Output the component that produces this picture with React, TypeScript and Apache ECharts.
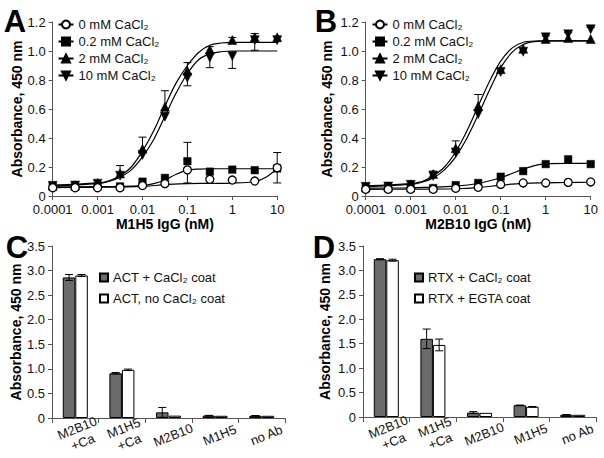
import React, { useEffect, useRef } from "react";
import * as echarts from "echarts";

// ---------- data ----------
const concX = [0.0001, 0.000316, 0.001, 0.00316, 0.01, 0.0316, 0.1, 0.316, 1, 3.16, 10];
const xTickLabels = ["0.0001", "0.001", "0.01", "0.1", "1", "10"];
const yTickLabelsAB = ["0", "0.2", "0.4", "0.6", "0.8", "1.0", "1.2"];
const yTickLabelsCD = ["0", "0.5", "1.0", "1.5", "2.0", "2.5", "3.0", "3.5"];
const seriesNames = ["0 mM CaCl₂", "0.2 mM CaCl₂", "2 mM CaCl₂", "10 mM CaCl₂"];

// Panel A (M1H5)
const a0 = [0.057, 0.057, 0.057, 0.057, 0.072, 0.085, 0.18, 0.115, 0.11, 0.103, 0.195];
const a0ErrLo = [0, 0, 0, 0, 0, 0, 0.09, 0, 0, 0, 0.105];
const a0ErrHi = [0, 0, 0, 0, 0, 0, 0, 0, 0, 0, 0.105];
const a02 = [0.064, 0.064, 0.066, 0.066, 0.099, 0.125, 0.24, 0.168, 0.182, 0.178, 0.19];
const a02ErrLo = [0, 0, 0, 0, 0, 0, 0, 0, 0, 0, 0];
const a02ErrHi = [0, 0, 0, 0, 0, 0, 0.13, 0, 0, 0, 0];
const a2 = [0.072, 0.075, 0.09, 0.156, 0.326, 0.616, 0.864, 1.01, 1.076, 1.095, 1.095];
const a2ErrLo = [0, 0, 0, 0, 0, 0, 0, 0, 0, 0, 0];
const a2ErrHi = [0, 0, 0, 0.054, 0.08, 0.11, 0.056, 0.02, 0.018, 0.025, 0];
const a10 = [0.07, 0.072, 0.085, 0.14, 0.283, 0.547, 0.816, 0.955, 0.965, 1.075, 1.075];
const a10ErrLo = [0, 0, 0, 0, 0, 0, 0.056, 0.07, 0.085, 0.07, 0];
const a10ErrHi = [0, 0, 0, 0, 0, 0, 0, 0, 0, 0, 0];

// Panel B (M2B10)
const b0 = [0.046, 0.046, 0.046, 0.046, 0.053, 0.06, 0.08, 0.09, 0.09, 0.094, 0.097];
const b0ErrLo = [0, 0, 0, 0, 0, 0, 0, 0, 0, 0, 0];
const b0ErrHi = [0, 0, 0, 0, 0, 0, 0, 0, 0, 0, 0];
const b02 = [0.053, 0.055, 0.055, 0.055, 0.075, 0.09, 0.133, 0.172, 0.22, 0.253, 0.22];
const b02ErrLo = [0, 0, 0, 0, 0, 0, 0, 0, 0, 0, 0];
const b02ErrHi = [0, 0, 0, 0, 0, 0, 0, 0, 0, 0, 0];
const b2 = [0.065, 0.067, 0.08, 0.152, 0.33, 0.62, 0.875, 1.015, 1.083, 1.09, 1.083];
const b2ErrLo = [0, 0, 0, 0, 0, 0, 0, 0, 0, 0, 0];
const b2ErrHi = [0, 0, 0, 0.02, 0.05, 0.08, 0, 0, 0, 0, 0];
const b10 = [0.063, 0.065, 0.077, 0.138, 0.3, 0.565, 0.855, 0.995, 1.094, 1.115, 1.15];
const b10ErrLo = [0, 0, 0, 0, 0, 0, 0, 0, 0, 0, 0];
const b10ErrHi = [0, 0, 0, 0, 0, 0, 0, 0, 0.01, 0.012, 0.012];

// fitted curves
const fitX = [0.0001, 0.001, 0.00178, 0.00316, 0.00562, 0.01, 0.0178, 0.0316, 0.0562, 0.1, 0.178, 0.316, 0.562, 1, 10];
const aFit2 = [0.075, 0.09, 0.105, 0.14, 0.2, 0.31, 0.45, 0.62, 0.78, 0.9, 0.99, 1.04, 1.055, 1.06, 1.06];
const aFit10 = [0.07, 0.085, 0.1, 0.13, 0.18, 0.27, 0.39, 0.55, 0.71, 0.845, 0.94, 0.98, 0.995, 1.0, 1.0];
const bFit2 = [0.07, 0.085, 0.1, 0.14, 0.2, 0.305, 0.45, 0.62, 0.79, 0.93, 1.02, 1.06, 1.068, 1.07, 1.07];
const bFit10 = [0.065, 0.08, 0.095, 0.125, 0.18, 0.27, 0.4, 0.56, 0.73, 0.885, 0.99, 1.045, 1.065, 1.07, 1.07];
const aFitX02 = [0.0001, 0.001, 0.01, 0.0178, 0.0316, 0.0562, 0.1, 0.178, 0.316, 1, 10];
const aFit02 = [0.063, 0.064, 0.072, 0.085, 0.11, 0.15, 0.178, 0.186, 0.188, 0.188, 0.188];
const aFitX0 = [0.0001, 0.001, 0.01, 0.0316, 0.1, 0.316, 1, 3.16, 5.62, 10];
const aFit0 = [0.058, 0.06, 0.066, 0.078, 0.086, 0.087, 0.089, 0.1, 0.13, 0.19];
const bFitX02 = [0.0001, 0.001, 0.01, 0.0316, 0.1, 0.178, 0.316, 0.562, 1, 3.16, 10];
const bFit02 = [0.055, 0.057, 0.068, 0.086, 0.126, 0.155, 0.185, 0.21, 0.222, 0.225, 0.225];
const bFitX0 = [0.0001, 0.001, 0.01, 0.0316, 0.1, 0.316, 1, 3.16, 10];
const bFit0 = [0.046, 0.047, 0.05, 0.058, 0.075, 0.087, 0.091, 0.093, 0.095];

// Panels C and D (bars)
const barCats = ["M2B10\n+Ca", "M1H5\n+Ca", "M2B10", "M1H5", "no Ab"];
const cNames = ["ACT + CaCl₂ coat", "ACT, no CaCl₂ coat"];
const cDark = [2.86, 0.91, 0.115, 0.048, 0.045];
const cDarkErr = [0.06, 0.015, 0.1, 0.006, 0.004];
const cWhite = [2.9, 0.98, 0.048, 0.045, 0.045];
const cWhiteErr = [0.02, 0.015, 0, 0, 0];
const dNames = ["RTX + CaCl₂ coat", "RTX + EGTA coat"];
const dDark = [3.23, 1.6, 0.09, 0.24, 0.045];
const dDarkErr = [0.01, 0.2, 0.02, 0.005, 0.005];
const dWhite = [3.21, 1.475, 0.085, 0.21, 0.045];
const dWhiteErr = [0.02, 0.12, 0, 0.005, 0];

// ---------- helpers ----------
const FONT = "Liberation Sans, Arial, sans-serif";
const CAP = 4;
const BAR_W = 12.5;

function pairs(xs: number[], ys: number[]) {
  return xs.map((x, i) => [x, ys[i]]);
}
function errData(xs: any[], v: number[], lo: number[], hi: number[]) {
  return v.map((y, i) => [xs[i], y, y - lo[i], y + hi[i]]);
}
function errRender(offset: number) {
  return (params: any, api: any) => {
    const x = api.value(0);
    const v = api.value(1);
    const lo = api.value(2);
    const hi = api.value(3);
    if (!(hi - lo > 1e-9)) return { type: "group", children: [] };
    const pV = api.coord([x, v]);
    const pLo = api.coord([x, lo]);
    const pHi = api.coord([x, hi]);
    const cx = pV[0] + offset;
    const st = { stroke: "#000", lineWidth: 1 };
    const ch: any[] = [
      { type: "line", shape: { x1: cx, y1: pLo[1], x2: cx, y2: pHi[1] }, style: st },
    ];
    if (hi > v + 1e-9)
      ch.push({ type: "line", shape: { x1: cx - CAP, y1: pHi[1], x2: cx + CAP, y2: pHi[1] }, style: st });
    if (lo < v - 1e-9)
      ch.push({ type: "line", shape: { x1: cx - CAP, y1: pLo[1], x2: cx + CAP, y2: pLo[1] }, style: st });
    return { type: "group", children: ch };
  };
}

const symbols = ["circle", "rect", "triangle", "triangle"];
const symbolRot = [0, 0, 0, 180];
const symbolSizes = [8, 7.5, 9, 9];
const fills = ["#fff", "#000", "#000", "#000"];

function logAxis(gridIndex: number, name: string) {
  return {
    type: "log",
    gridIndex,
    logBase: 10,
    min: 0.0001,
    max: 10,
    name,
    nameLocation: "middle",
    nameGap: 21,
    nameTextStyle: { fontWeight: "bold", fontSize: 14, color: "#000", fontFamily: FONT },
    axisLine: { show: true, lineStyle: { color: "#555", width: 1 } },
    axisTick: { show: true, length: 4, lineStyle: { color: "#555" } },
    minorTick: { show: false },
    splitLine: { show: false },
    axisLabel: {
      fontSize: 13,
      color: "#111",
      margin: 7,
      fontFamily: FONT,
      formatter: (v: number) => xTickLabels[Math.round(Math.log10(v)) + 4] ?? "",
    },
  };
}
function valAxis(gridIndex: number, max: number, interval: number, labels: string[], nameGap: number) {
  return {
    type: "value",
    gridIndex,
    min: 0,
    max,
    interval,
    name: "Absorbance, 450 nm",
    nameLocation: "middle",
    nameGap,
    nameTextStyle: { fontWeight: "bold", fontSize: 14, color: "#000", fontFamily: FONT },
    axisLine: { show: true, lineStyle: { color: "#555", width: 1 } },
    axisTick: { show: true, length: 4, lineStyle: { color: "#555" } },
    splitLine: { show: false },
    axisLabel: {
      fontSize: 13,
      color: "#111",
      margin: 7,
      fontFamily: FONT,
      formatter: (v: number) => labels[Math.round(v / interval)] ?? "",
    },
  };
}
function catAxis(gridIndex: number) {
  return {
    type: "category",
    gridIndex,
    data: barCats,
    axisLine: { show: true, lineStyle: { color: "#555", width: 1 } },
    axisTick: { show: true, length: 5, lineStyle: { color: "#555" } },
    splitLine: { show: false },
    axisLabel: {
      interval: 0,
      rotate: 22,
      align: "center",
      verticalAlign: "middle",
      margin: 19,
      fontSize: 13,
      lineHeight: 15,
      padding: [0, 0, 0, 10],
      color: "#111",
      fontFamily: FONT,
    },
  };
}

function curvePanel(
  gi: number,
  fits: number[][][],
  vals: number[][],
  errLo: number[][],
  errHi: number[][]
) {
  const out: any[] = [];
  for (let k = 0; k < 4; k++) {
    out.push({
      type: "line",
      name: seriesNames[k],
      xAxisIndex: gi,
      yAxisIndex: gi,
      data: fits[k],
      smooth: 0.35,
      showSymbol: false,
      symbol: symbols[k],
      symbolRotate: symbolRot[k],
      lineStyle: { color: "#000", width: 1.2 },
      itemStyle: { color: fills[k], borderColor: "#000", borderWidth: 1.2 },
      z: 2,
      silent: true,
    });
  }
  for (let k = 0; k < 4; k++) {
    out.push({
      type: "custom",
      name: seriesNames[k] + " error",
      xAxisIndex: gi,
      yAxisIndex: gi,
      data: errData(concX, vals[k], errLo[k], errHi[k]),
      encode: { x: 0, y: 1 },
      renderItem: errRender(0),
      z: 3,
      silent: true,
    });
  }
  const order = [3, 2, 1, 0];
  for (const k of order) {
    out.push({
      type: "scatter",
      name: seriesNames[k],
      xAxisIndex: gi,
      yAxisIndex: gi,
      data: pairs(concX, vals[k]),
      symbol: symbols[k],
      symbolRotate: symbolRot[k],
      symbolSize: symbolSizes[k],
      itemStyle: { color: fills[k], borderColor: "#000", borderWidth: k === 0 ? 1.3 : 0.5, opacity: 1 },
      z: 4,
      silent: true,
    });
  }
  return out;
}

function barPanel(gi: number, names: string[], dark: number[], darkErr: number[], white: number[], whiteErr: number[]) {
  const idx = barCats.map((_, i) => i);
  return [
    {
      type: "bar",
      name: names[0],
      xAxisIndex: gi,
      yAxisIndex: gi,
      data: dark,
      barWidth: BAR_W,
      barGap: "0%",
      itemStyle: { color: "#6b6b6b", borderColor: "#000", borderWidth: 1 },
      silent: true,
    },
    {
      type: "bar",
      name: names[1],
      xAxisIndex: gi,
      yAxisIndex: gi,
      data: white,
      barWidth: BAR_W,
      barGap: "0%",
      itemStyle: { color: "#fff", borderColor: "#000", borderWidth: 1 },
      silent: true,
    },
    {
      type: "custom",
      name: names[0] + " error",
      xAxisIndex: gi,
      yAxisIndex: gi,
      data: errData(idx, dark, darkErr, darkErr),
      encode: { x: 0, y: 1 },
      renderItem: errRender(-BAR_W / 2),
      z: 5,
      silent: true,
    },
    {
      type: "custom",
      name: names[1] + " error",
      xAxisIndex: gi,
      yAxisIndex: gi,
      data: errData(idx, white, whiteErr, whiteErr),
      encode: { x: 0, y: 1 },
      renderItem: errRender(BAR_W / 2),
      z: 5,
      silent: true,
    },
  ];
}

function curveLegend(left: number) {
  return {
    data: seriesNames,
    orient: "vertical",
    left,
    top: 18,
    padding: 0,
    itemWidth: 15,
    itemHeight: 10,
    itemGap: 4,
    selectedMode: false,
    textStyle: { fontSize: 13, color: "#111", fontFamily: FONT },
  };
}
function barLegend(names: string[], left: number) {
  return {
    data: names,
    orient: "vertical",
    left,
    top: 271,
    padding: 0,
    icon: "rect",
    itemWidth: 8,
    itemHeight: 8,
    itemGap: 8,
    selectedMode: false,
    textStyle: { fontSize: 13, color: "#111", fontFamily: FONT },
  };
}

function letter(text: string, x: number, y: number) {
  return {
    type: "text",
    x,
    y,
    style: {
      text,
      fontSize: 31,
      fontWeight: "bold",
      fontFamily: FONT,
      fill: "#000",
      textAlign: "center",
      textVerticalAlign: "middle",
    },
  };
}

export default function App() {
  const ref = useRef<HTMLDivElement>(null);
  useEffect(() => {
    if (!ref.current) return;
    const chart = echarts.init(ref.current, undefined, { renderer: "svg" });
    const option: any = {
      animation: false,
      backgroundColor: "#fff",
      textStyle: { fontFamily: FONT },
      grid: [
        { left: 52.7, top: 22, width: 224.5, height: 174, outerBoundsMode: "none" },
        { left: 365.7, top: 22, width: 225, height: 174, outerBoundsMode: "none" },
        { left: 52, top: 246, width: 233, height: 172, outerBoundsMode: "none" },
        { left: 363, top: 246, width: 233, height: 171, outerBoundsMode: "none" },
      ],
      xAxis: [logAxis(0, "M1H5 IgG (nM)"), logAxis(1, "M2B10 IgG (nM)"), catAxis(2), catAxis(3)],
      yAxis: [
        valAxis(0, 1.2, 0.2, yTickLabelsAB, 29),
        valAxis(1, 1.2, 0.2, yTickLabelsAB, 32),
        valAxis(2, 3.5, 0.5, yTickLabelsCD, 29),
        valAxis(3, 3.5, 0.5, yTickLabelsCD, 31),
      ],
      legend: [curveLegend(57.5), curveLegend(371.5), barLegend(cNames, 99), barLegend(dNames, 414)],
      graphic: [letter("A", 15, 21), letter("B", 326, 21), letter("C", 17, 247), letter("D", 324, 247)],
      series: [
        ...curvePanel(
          0,
          [pairs(aFitX0, aFit0), pairs(aFitX02, aFit02), pairs(fitX, aFit2), pairs(fitX, aFit10)],
          [a0, a02, a2, a10],
          [a0ErrLo, a02ErrLo, a2ErrLo, a10ErrLo],
          [a0ErrHi, a02ErrHi, a2ErrHi, a10ErrHi]
        ),
        ...curvePanel(
          1,
          [pairs(bFitX0, bFit0), pairs(bFitX02, bFit02), pairs(fitX, bFit2), pairs(fitX, bFit10)],
          [b0, b02, b2, b10],
          [b0ErrLo, b02ErrLo, b2ErrLo, b10ErrLo],
          [b0ErrHi, b02ErrHi, b2ErrHi, b10ErrHi]
        ),
        ...barPanel(2, cNames, cDark, cDarkErr, cWhite, cWhiteErr),
        ...barPanel(3, dNames, dDark, dDarkErr, dWhite, dWhiteErr),
      ],
    };
    chart.setOption(option);
    return () => chart.dispose();
  }, []);
  return (
    <div
      ref={ref}
      style={{ position: "absolute", left: 0, top: 0, width: 604, height: 458 }}
    />
  );
}
